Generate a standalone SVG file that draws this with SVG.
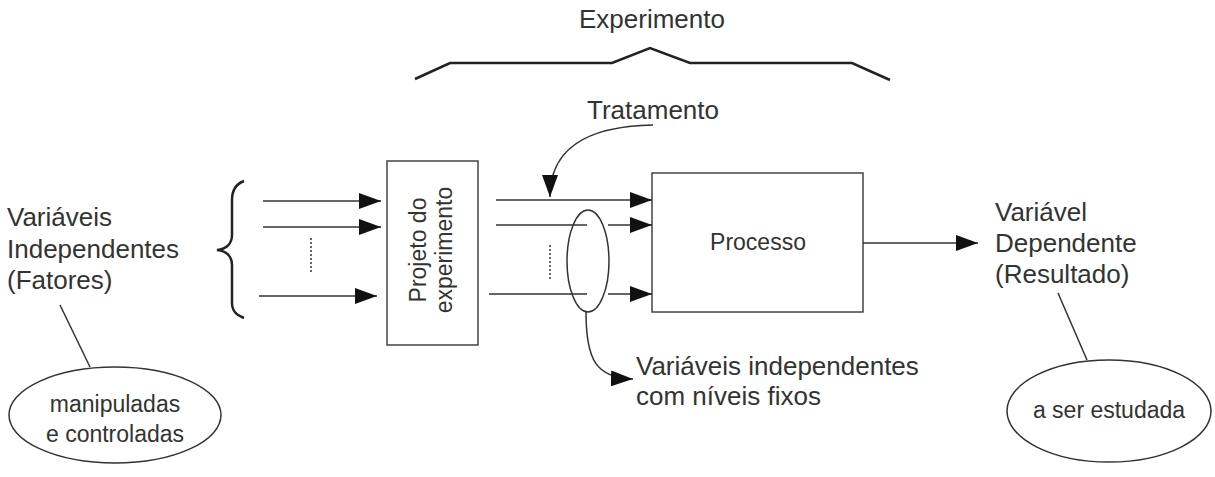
<svg xmlns="http://www.w3.org/2000/svg" width="1215" height="477" viewBox="0 0 1215 477">
<style>
text{font-family:"Liberation Sans",Arial,sans-serif;fill:#333}
.big{font-size:26px}
.mid{font-size:23px}
.ln{stroke:#333;stroke-width:1.5;fill:none}
.thick{stroke:#222;stroke-width:2.5;fill:none}
.box{stroke:#444;stroke-width:1.5;fill:#fff}
.dot{stroke:#333;stroke-width:1.5;stroke-dasharray:2,2;fill:none}
.arr{marker-end:url(#ah)}
</style>
<defs>
<marker id="ah" viewBox="0 0 22 16" refX="22" refY="8" markerWidth="22" markerHeight="16" markerUnits="userSpaceOnUse" orient="auto">
<path d="M0,0 L22,8 L0,16 z" fill="#111"/>
</marker>
</defs>
<rect width="1215" height="477" fill="#fff"/>

<g id="experimento">
<text class="big" x="652" y="28" text-anchor="middle">Experimento</text>
<polyline class="thick" points="415,79 450,63 612,63 650,48 690,63 852,63 890,80"/>
</g>

<g id="variaveis-independentes">
<text class="big" x="7" y="226">Variáveis</text>
<text class="big" x="7" y="258">Independentes</text>
<text class="big" x="7" y="289">(Fatores)</text>
<path class="thick" d="M244,181 C236,184 232,190 232,200 L232,235 C232,244 226,249 217,250 C226,251 232,256 232,265 L232,303 C232,311 236,315 244,318"/>
</g>

<g id="manipuladas">
<ellipse class="ln" cx="115" cy="415" rx="106" ry="48"/>
<text class="mid" x="115" y="412" text-anchor="middle">manipuladas</text>
<text class="mid" x="115" y="442" text-anchor="middle">e controladas</text>
</g>

<g id="projeto">
<rect class="box" x="387" y="161" width="91" height="184"/>
<text class="mid" transform="translate(426,250) rotate(-90)" text-anchor="middle">Projeto do</text>
<text class="mid" transform="translate(452,250) rotate(-90)" text-anchor="middle">experimento</text>
</g>

<g id="tratamento">
<text class="big" x="653" y="119" text-anchor="middle">Tratamento</text>
</g>

<g id="processo">
<rect class="box" x="652" y="173" width="211" height="139"/>
<text class="mid" x="758" y="250" text-anchor="middle">Processo</text>
</g>

<g id="niveis-fixos">
<ellipse class="ln" cx="588" cy="261" rx="21" ry="51"/>
<text class="big" x="636" y="375">Variáveis independentes</text>
<text class="big" x="636" y="405">com níveis fixos</text>
</g>

<g id="variavel-dependente">
<text class="big" x="995" y="221">Variável</text>
<text class="big" x="995" y="252">Dependente</text>
<text class="big" x="995" y="283">(Resultado)</text>
</g>

<g id="a-ser-estudada">
<ellipse class="ln" cx="1109" cy="411" rx="102" ry="51"/>
<text class="mid" x="1109" y="418" text-anchor="middle">a ser estudada</text>
</g>

<g id="connectors">
<line class="ln arr" x1="263" y1="201" x2="381" y2="201"/>
<line class="ln arr" x1="263" y1="227" x2="381" y2="227"/>
<line class="ln arr" x1="259" y1="296" x2="377" y2="296"/>
<line class="dot" x1="311" y1="238" x2="311" y2="274"/>

<line class="ln arr" x1="496" y1="200" x2="652" y2="200"/>
<line class="ln" x1="496" y1="225" x2="587" y2="225"/>
<line class="ln arr" x1="608" y1="225" x2="652" y2="225"/>
<line class="ln" x1="489" y1="294" x2="587" y2="294"/>
<line class="ln arr" x1="608" y1="294" x2="652" y2="294"/>
<line class="dot" x1="550" y1="245" x2="550" y2="281"/>

<path class="ln arr" d="M653,125 C600,126 550,140 550,197"/>
<path class="ln arr" d="M586,312 C586,360 596,378 633,379"/>

<line class="ln arr" x1="863" y1="243" x2="978" y2="243"/>

<line class="ln" x1="60" y1="305" x2="90" y2="367"/>
<line class="ln" x1="1058" y1="293" x2="1087" y2="360"/>
</g>
</svg>
